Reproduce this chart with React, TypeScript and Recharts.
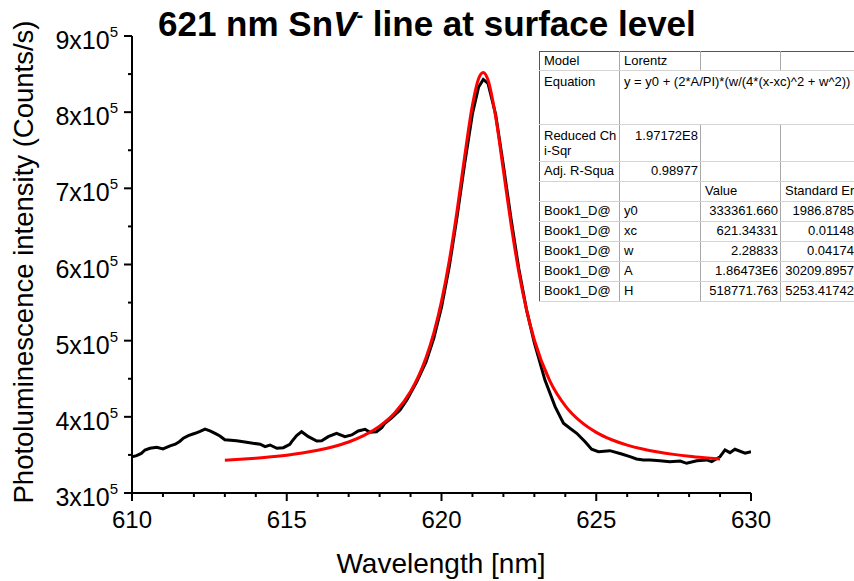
import React from 'react';
import { LineChart, Line, XAxis, YAxis } from 'recharts';

const wavelength = [
  610.0, 610.15, 610.3, 610.42, 610.58, 610.8, 611.0, 611.23, 611.4, 611.55, 611.66, 611.82,
  612.04, 612.2, 612.36, 612.52, 612.7, 612.84, 613.0, 613.38, 613.7, 614.14, 614.3, 614.46,
  614.68, 614.89, 615.1, 615.16, 615.32, 615.48, 615.7, 615.97, 616.13, 616.34, 616.61, 616.88,
  617.1, 617.31, 617.53, 617.69, 617.9, 618.07, 618.17, 618.4, 618.66, 618.88, 619.2, 619.5,
  619.75, 620.0, 620.25, 620.5, 620.75, 621.0, 621.2, 621.35, 621.5, 621.75, 622.0, 622.25,
  622.5, 622.75, 623.0, 623.34, 623.67, 623.94, 624.15, 624.37, 624.64, 624.85, 625.07, 625.44,
  625.82, 626.09, 626.3, 626.52, 626.74, 627.06, 627.38, 627.71, 627.92, 628.25, 628.57, 628.73,
  629.0, 629.16, 629.32, 629.48, 629.81, 630.0,
];
const intensity = [
  347700, 349000, 352000, 356500, 358700, 360000, 357800, 361800, 364000, 368000, 372000, 375300,
  378400, 381000, 384000, 381500, 378000, 374900, 370000, 368700, 366600, 364000, 360800, 363000,
  358700, 359500, 364000, 367400, 375300, 380500, 374000, 368300, 368700, 374000, 378400, 374000,
  376200, 381500, 383700, 379800, 380500, 385800, 391600, 399000, 409000, 422000, 446000, 472000,
  503000, 544000, 597000, 662000, 733000, 798000, 833000, 843000, 838000, 797000, 730000, 659000,
  594000, 540000, 497000, 448500, 413400, 391600, 385000, 378400, 367400, 357400, 354300, 355600,
  351200, 347700, 344700, 343400, 343400, 342400, 341100, 342000, 339000, 342400, 343400, 341100,
  347700, 356500, 353000, 357400, 352200, 354300,
];

// Lorentz fit curve
const fitWavelength = [
  613, 613.5, 614, 614.5, 615, 615.5, 616, 616.5, 617, 617.5, 618, 618.5, 619, 619.25, 619.5,
  619.75, 620, 620.25, 620.5, 620.75, 621, 621.2, 621.35, 621.5, 621.75, 622, 622.25, 622.5,
  622.75, 623, 623.5, 624, 624.5, 625, 625.5, 626, 626.5, 627, 627.5, 628, 628.5, 629,
];
const fitIntensity = [
  342900, 344200, 345700, 347500, 349700, 352500, 356100, 360800, 367000, 375600, 387800, 405700,
  433200, 452700, 477600, 509900, 551600, 604600, 669600, 742300, 809300, 844200, 852100, 842600,
  793900, 723600, 652000, 590000, 540000, 500900, 447300, 414500, 393600, 379600, 369900, 362900,
  357700, 353800, 350700, 348200, 346300, 344700,
];

const xTicks = [610, 611, 612, 613, 614, 615, 616, 617, 618, 619, 620, 621, 622, 623, 624, 625, 626, 627, 628, 629, 630];
const yTicks = [300000, 350000, 400000, 450000, 500000, 550000, 600000, 650000, 700000, 750000, 800000, 850000, 900000];

const fitRows = [
  ['y0', '333361.660', '1986.8785'],
  ['xc', '621.34331', '0.01148'],
  ['w', '2.28833', '0.04174'],
  ['A', '1.86473E6', '30209.8957'],
  ['H', '518771.763', '5253.41742'],
];

const measured = wavelength.map((x, i) => ({ x, y: intensity[i] }));
const fit = fitWavelength.map((x, i) => ({ x, y: fitIntensity[i] }));

const FONT = '"Liberation Sans", Arial, sans-serif';

const XTick = (props: any) => {
  const { x, y, payload } = props;
  const major = payload.value % 5 === 0;
  return (
    <g>
      <line x1={x} y1={y} x2={x} y2={y + (major ? 8 : 4)} stroke="#000" strokeWidth={2} />
      {major && (
        <text x={x} y={y + 35} textAnchor="middle" fontSize={24} fontFamily={FONT} fill="#000">
          {payload.value}
        </text>
      )}
    </g>
  );
};

const YTick = (props: any) => {
  const { x, y, payload } = props;
  const major = payload.value % 100000 === 0;
  return (
    <g>
      <line x1={x} y1={y} x2={x - (major ? 8 : 4)} y2={y} stroke="#000" strokeWidth={2} />
      {major && (
        <text x={x - 14} y={y + 13} textAnchor="end" fontSize={25} fontFamily={FONT} fill="#000">
          {payload.value / 100000}x10
          <tspan fontSize={15} dy={-12}>5</tspan>
        </text>
      )}
    </g>
  );
};

const cell: React.CSSProperties = {
  borderRight: '1px solid #a8a8a8',
  borderBottom: '1px solid #d4d4d4',
  padding: '1px 4px',
  verticalAlign: 'top',
  whiteSpace: 'nowrap',
  overflow: 'hidden',
};
const num: React.CSSProperties = { ...cell, textAlign: 'right', padding: '1px 2px' };
const last: React.CSSProperties = { ...cell, borderRight: 'none' };
const lastNum: React.CSSProperties = { ...num, borderRight: 'none' };

const FitTable = () => (
  <table
    style={{
      position: 'absolute', left: 539, top: 51, borderCollapse: 'collapse', tableLayout: 'fixed',
      width: 317, fontFamily: FONT, fontSize: 13, lineHeight: '15px', color: '#000',
      background: '#fff', border: '1.5px solid #555',
    }}
  >
    <colgroup>
      <col style={{ width: 80 }} />
      <col style={{ width: 81 }} />
      <col style={{ width: 80 }} />
      <col style={{ width: 76 }} />
    </colgroup>
    <tbody>
      <tr style={{ height: 19 }}>
        <td style={cell}>Model</td>
        <td style={cell}>Lorentz</td>
        <td style={cell}></td>
        <td style={last}></td>
      </tr>
      <tr style={{ height: 54 }}>
        <td style={{ ...cell, paddingTop: 3 }}>Equation</td>
        <td style={{ ...last, paddingTop: 3, overflow: 'visible' }} colSpan={3}>
          y = y0 + (2*A/PI)*(w/(4*(x-xc)^2 + w^2))
        </td>
      </tr>
      <tr style={{ height: 37 }}>
        <td style={{ ...cell, paddingTop: 3 }}>Reduced Ch<br />i-Sqr</td>
        <td style={{ ...num, paddingTop: 3 }}>1.97172E8</td>
        <td style={cell}></td>
        <td style={last}></td>
      </tr>
      <tr style={{ height: 20 }}>
        <td style={cell}>Adj. R-Squa</td>
        <td style={num}>0.98977</td>
        <td style={cell}></td>
        <td style={last}></td>
      </tr>
      <tr style={{ height: 20 }}>
        <td style={cell}></td>
        <td style={cell}></td>
        <td style={cell}>Value</td>
        <td style={last}>Standard Er</td>
      </tr>
      {fitRows.map((r) => (
        <tr key={r[0]} style={{ height: 20 }}>
          <td style={cell}>Book1_D@</td>
          <td style={cell}>{r[0]}</td>
          <td style={num}>{r[1]}</td>
          <td style={lastNum}>{r[2]}</td>
        </tr>
      ))}
    </tbody>
  </table>
);

export default function App() {
  return (
    <div style={{ position: 'absolute', left: 0, top: 0, width: 854, height: 581, overflow: 'hidden', background: '#fff' }}>
      <LineChart width={854} height={581} margin={{ top: 36, right: 103, bottom: 48, left: 72 }}>
        <XAxis
          dataKey="x"
          type="number"
          domain={[610, 630]}
          ticks={xTicks}
          interval={0}
          tickSize={0}
          tickMargin={0}
          height={40}
          axisLine={{ stroke: '#000', strokeWidth: 2 }}
          tick={<XTick />}
          allowDataOverflow
          label={() => (
            <text x={441} y={573} textAnchor="middle" fontSize={28} fontFamily={FONT} fill="#000">
              Wavelength [nm]
            </text>
          )}
        />
        <YAxis
          dataKey="y"
          type="number"
          domain={[300000, 900000]}
          ticks={yTicks}
          interval={0}
          tickSize={0}
          tickMargin={0}
          width={60}
          axisLine={{ stroke: '#000', strokeWidth: 2 }}
          tick={<YTick />}
          allowDataOverflow
          label={() => (
            <text
              x={23}
              y={262}
              transform="rotate(-90 23 262)"
              textAnchor="middle"
              dominantBaseline="central"
              fontSize={27.5}
              fontFamily={FONT}
              fill="#000"
            >
              Photoluminescence intensity (Counts/s)
            </text>
          )}
        />
        <Line data={measured} dataKey="y" type="linear" stroke="#000" strokeWidth={3} dot={false} isAnimationActive={false} />
        <Line data={fit} dataKey="y" type="monotone" stroke="#ff0000" strokeWidth={3} dot={false} isAnimationActive={false} />
      </LineChart>
      <div
        style={{
          position: 'absolute', left: 158, top: 4, fontFamily: FONT, fontSize: 35, fontWeight: 'bold',
          lineHeight: '40px', whiteSpace: 'nowrap', color: '#000',
        }}
      >
        621 nm Sn<i>V</i>
        <span style={{ fontSize: 20, position: 'relative', top: -14 }}>-</span> line at surface level
      </div>
      <FitTable />
    </div>
  );
}
